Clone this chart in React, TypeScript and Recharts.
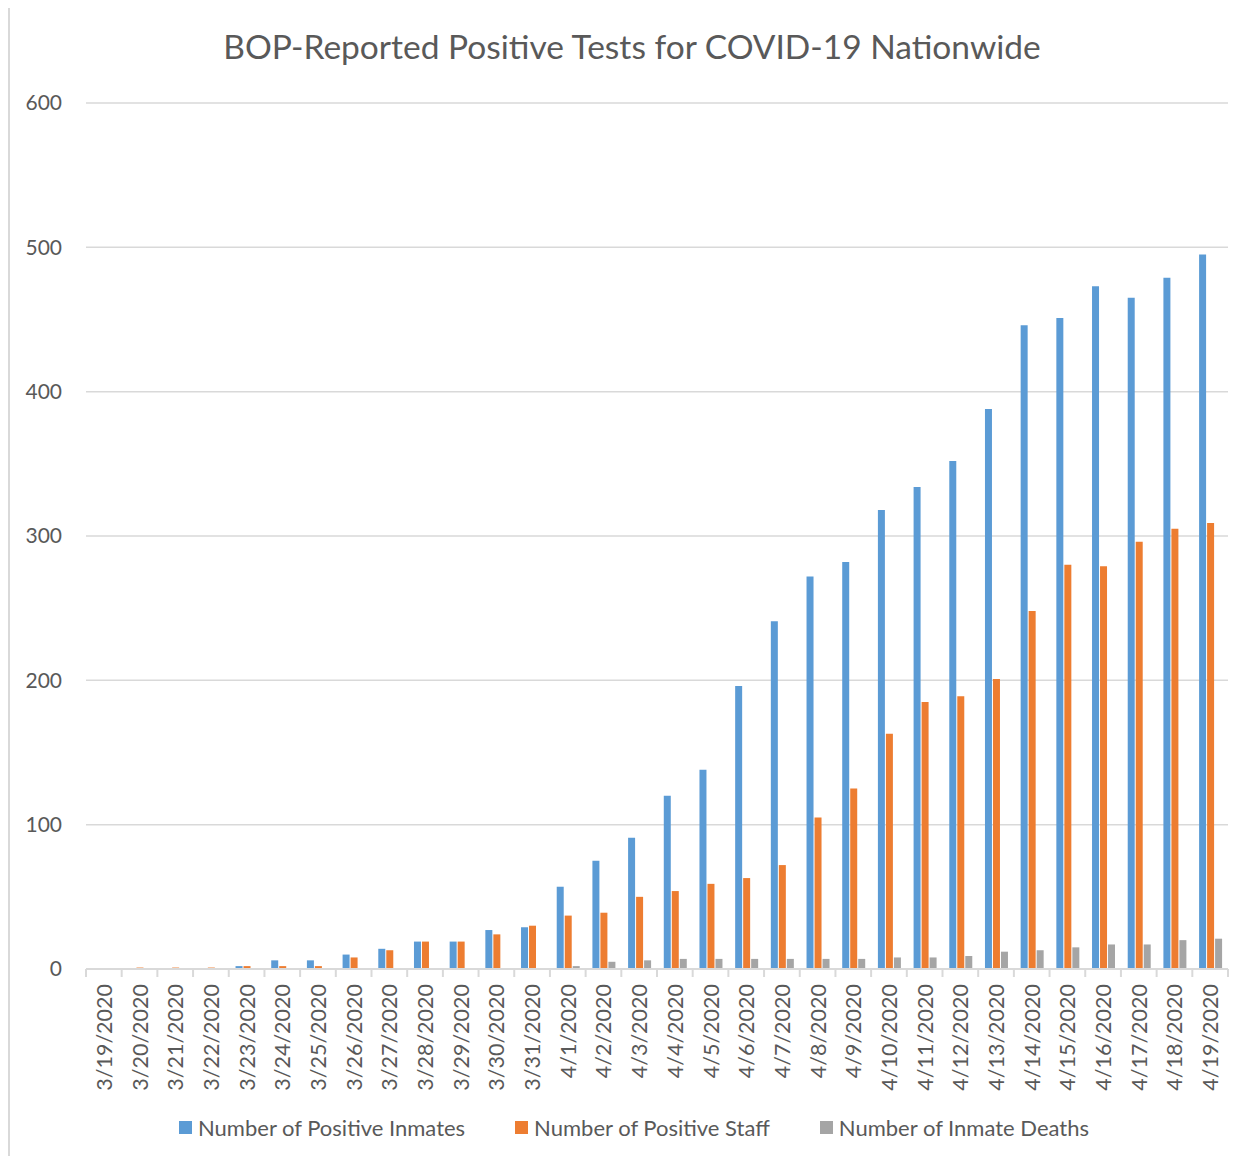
import React from "react";
import {
  BarChart,
  Bar,
  XAxis,
  YAxis,
  CartesianGrid,
  Legend,
} from "recharts";

const dates = [
  "3/19/2020", "3/20/2020", "3/21/2020", "3/22/2020", "3/23/2020", "3/24/2020",
  "3/25/2020", "3/26/2020", "3/27/2020", "3/28/2020", "3/29/2020", "3/30/2020",
  "3/31/2020", "4/1/2020", "4/2/2020", "4/3/2020", "4/4/2020", "4/5/2020",
  "4/6/2020", "4/7/2020", "4/8/2020", "4/9/2020", "4/10/2020", "4/11/2020",
  "4/12/2020", "4/13/2020", "4/14/2020", "4/15/2020", "4/16/2020", "4/17/2020",
  "4/18/2020", "4/19/2020",
];

const positiveInmates = [
  0, 0, 0, 0, 2, 6, 6, 10, 14, 19, 19, 27, 29, 57, 75, 91, 120, 138, 196, 241,
  272, 282, 318, 334, 352, 388, 446, 451, 473, 465, 479, 495,
];

const positiveStaff = [
  0, 1, 1, 1, 2, 2, 2, 8, 13, 19, 19, 24, 30, 37, 39, 50, 54, 59, 63, 72, 105,
  125, 163, 185, 189, 201, 248, 280, 279, 296, 305, 309,
];

const inmateDeaths = [
  0, 0, 0, 0, 0, 0, 0, 0, 0, 0, 0, 0, 0, 2, 5, 6, 7, 7, 7, 7, 7, 7, 8, 8, 9, 12,
  13, 15, 17, 17, 20, 21,
];

const yTicks = [0, 100, 200, 300, 400, 500, 600];

const seriesNames = [
  "Number of Positive Inmates",
  "Number of Positive Staff",
  "Number of Inmate Deaths",
];
const colors = ["#5b9bd5", "#ed7d31", "#a5a5a5"];

const data = dates.map((d, i) => ({
  date: d,
  inmates: positiveInmates[i],
  staff: positiveStaff[i],
  deaths: inmateDeaths[i],
}));

const FONT = "Lato, 'Open Sans', sans-serif";
const TEXT = "#595959";
const LINE = "#d9d9d9";

// excel style: tick marks sit between categories, labels rotated
const DateTick = (props: any) => {
  const { x, y, payload, index } = props;
  const half = payload.offset || 0;
  const axisY = y - 8;
  return (
    <g>
      <line x1={x - half} y1={axisY} x2={x - half} y2={axisY + 8} stroke={LINE} strokeWidth={2} />
      {index === dates.length - 1 && (
        <line x1={x + half} y1={axisY} x2={x + half} y2={axisY + 8} stroke={LINE} strokeWidth={2} />
      )}
      <text
        x={0}
        y={0}
        transform={`translate(${x},${y + 7}) rotate(-90)`}
        textAnchor="end"
        dominantBaseline="central"
        fill={TEXT}
        fontSize={21.5}
        fontFamily={FONT}
      >
        {payload.value}
      </text>
    </g>
  );
};

const LegendContent = () => (
  <div
    style={{
      display: "flex",
      justifyContent: "center",
      gap: 50,
      fontFamily: FONT,
      fontSize: 22,
      color: TEXT,
      paddingLeft: 14,
    }}
  >
    {seriesNames.map((n, i) => (
      <div key={n} style={{ display: "flex", alignItems: "center" }}>
        <span
          style={{
            display: "inline-block",
            width: 13,
            height: 13,
            background: colors[i],
            marginRight: 6,
          }}
        />
        <span>{n}</span>
      </div>
    ))}
  </div>
);

export default function App() {
  return (
    <div
      style={{
        marginTop: -4,
        width: 1236,
        borderLeft: `2px solid ${LINE}`,
        borderTop: `2px solid ${LINE}`,
        position: "relative",
      }}
    >
      <div
        style={{
          position: "absolute",
          top: 20,
          left: 5,
          width: 1234,
          textAlign: "center",
          fontFamily: FONT,
          fontSize: 33.5,
          color: TEXT,
        }}
      >
        BOP-Reported Positive Tests for COVID-19 Nationwide
      </div>
      <BarChart
        width={1234}
        height={1150}
        data={data}
        margin={{ top: 97, right: 16, left: 16, bottom: 15 }}
        barCategoryGap="19%"
        barGap={1}
      >
        <CartesianGrid vertical={false} stroke={LINE} strokeWidth={1.5} />
        <XAxis
          dataKey="date"
          interval={0}
          height={145}
          tickSize={8}
          tickMargin={0}
          tickLine={false}
          axisLine={{ stroke: LINE, strokeWidth: 2 }}
          tick={<DateTick />}
        />
        <YAxis
          width={60}
          domain={[0, 600]}
          ticks={yTicks}
          axisLine={false}
          tickLine={false}
          tickSize={6}
          tickMargin={18}
          tick={{ fill: TEXT, fontSize: 21, fontFamily: FONT }}
        />
        <Legend verticalAlign="bottom" content={<LegendContent />} />
        <Bar dataKey="inmates" name={seriesNames[0]} fill={colors[0]} isAnimationActive={false} />
        <Bar dataKey="staff" name={seriesNames[1]} fill={colors[1]} isAnimationActive={false} />
        <Bar dataKey="deaths" name={seriesNames[2]} fill={colors[2]} isAnimationActive={false} />
      </BarChart>
    </div>
  );
}
